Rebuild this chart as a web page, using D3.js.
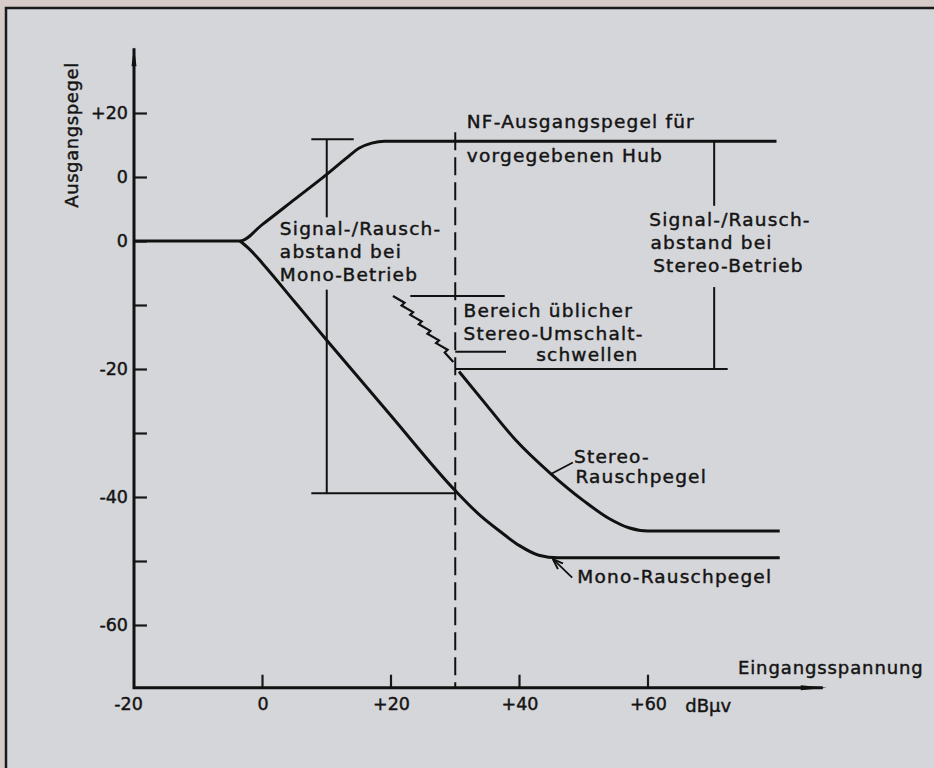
<!DOCTYPE html>
<html>
<head>
<meta charset="utf-8">
<script src="https://cdn.jsdelivr.net/npm/d3@7"></script>
<style>
  body { margin: 0; background: #d6cbc8; }
  svg { display: block; }
  text { font-family: "DejaVu Sans", sans-serif; fill: #141414; stroke: #141414; stroke-width: 0.45px; }
</style>
</head>
<body>
<div id="chart"></div>
<script>
// ticks
var xTicks = [-20, 0, 20, 40, 60];
var xTickLabels = ["-20", "0", "+20", "+40", "+60"];
var yTicks = [20, 10, 0, -10, -20, -30, -40, -50, -60];
var yTickLabels = ["+20", "0", "0", "", "-20", "", "-40", "", "-60"];

// curves, [input dBuV, output dB]
var signalLevel = [[-20, 0], [-3.5, 0], [0, 2.6], [5, 6.5], [10, 10.4], [13, 12.9], [15, 14.5], [17, 15.3], [19, 15.6], [80, 15.6]];
var monoNoise = [[-3.5, 0], [-2, -1.3], [0, -3.5], [5, -9.5], [10, -15.5], [20, -27.3], [30, -39], [34, -43], [37, -45.4], [40, -47.6], [43, -49.1], [46, -49.5], [80.5, -49.5]];
var stereoSwitch = [[20.3, -8.6], [22.1, -9.64], [21.64, -10.07], [23.44, -11.11], [22.99, -11.54], [24.78, -12.58], [24.33, -13.01], [26.13, -14.05], [25.67, -14.48], [27.47, -15.53], [27.01, -15.96], [28.81, -17.0], [28.36, -17.43], [29.7, -18.9]];
var stereoNoise = [[30.6, -20.4], [35, -25.8], [39.4, -31.1], [44.8, -36.3], [50, -40.6], [54, -43.4], [57, -44.8], [60, -45.3], [80.5, -45.3]];

// bracket / guide lines
var guideSegments = [
    [[7.6, 15.9], [14.2, 15.9]],
    [[10, 15.9], [10, 3.7]],
    [[10, -7.6], [10, -39.4]],
    [[7.6, -39.4], [30, -39.4]],
    [[70.3, 15.6], [70.3, 5.5]],
    [[70.3, -7.2], [70.3, -20]],
    [[30, -20], [72.4, -20]],
    [[23, -8.6], [37.7, -8.6]],
    [[30, -17.3], [37.9, -17.3]]
];
var thresholdInput = 30;
var leaderStereo = [[48.3, -34.6], [44.9, -36.4]];
var leaderMono = [[48.2, -52.6], [45.3, -49.8]];

// annotation texts [text, x dBuV, y dB at baseline]
var notes = [
    ["NF-Ausgangspegel für", 31.8, 17.6],
    ["vorgegebenen Hub", 31.8, 12.4],
    ["Signal-/Rausch-", 2.7, 0.9],
    ["abstand bei", 2.7, -2.6],
    ["Mono-Betrieb", 2.7, -6.2],
    ["Signal-/Rausch-", 60.2, 2.3],
    ["abstand bei", 60.4, -1.2],
    ["Stereo-Betrieb", 60.8, -4.8],
    ["Bereich üblicher", 31.3, -11.9],
    ["Stereo-Umschalt-", 31.3, -15.5],
    ["schwellen", 42.6, -18.7],
    ["Stereo-", 48.5, -34.7],
    ["Rauschpegel", 48.7, -37.8],
    ["Mono-Rauschpegel", 49, -53.5]
];

var svgWidth = 934;
var svgHeight = 768;

var svg = d3.select("#chart")
    .append("svg")
    .attr("width", svgWidth)
    .attr("height", svgHeight);

//background and frame
svg.append("rect")
    .attr("x", 6).attr("y", 8)
    .attr("width", svgWidth - 6).attr("height", svgHeight - 8)
    .attr("fill", "#d5d6d9");
svg.append("path")
    .attr("d", "M6," + svgHeight + "V8H" + svgWidth)
    .attr("fill", "none")
    .attr("stroke", "#1a1a1a")
    .attr("stroke-width", 2.5);

//scales
var x = d3.scaleLinear().domain([-20, 60]).range([134, 648]);
var y = d3.scaleLinear().domain([-60, 20]).range([625, 113]);

var yTop = y(30.1);
var yBottom = y(-69.8);
var xRight = x(87.2);

//axes
var xAxis = d3.axisBottom(x)
    .tickValues(xTicks)
    .tickSize(0)
    .tickPadding(10)
    .tickFormat(function (d, i) { return xTickLabels[i]; });

var yAxis = d3.axisLeft(y)
    .tickValues(yTicks)
    .tickSize(-13)
    .tickPadding(6)
    .tickFormat(function (d, i) { return yTickLabels[i]; });

var gx = svg.append("g")
    .attr("transform", "translate(0," + yBottom + ")")
    .call(xAxis);
var gy = svg.append("g")
    .attr("transform", "translate(" + x(-20) + ",0)")
    .call(yAxis);

[gx, gy].forEach(function (g) {
    g.select(".domain").remove();
    g.selectAll("line").attr("stroke", "#1a1a1a").attr("stroke-width", 2.2);
    g.selectAll("text")
        .attr("font-size", 17.5)
        .attr("fill", "#141414")
        .style("font-family", "DejaVu Sans");
});
gx.selectAll(".tick").filter(function (d) { return d === -20; }).select("text").attr("dx", -6);

// x tick marks sit above the axis line
svg.selectAll(".xmark")
    .data(xTicks.filter(d => d > -20))
    .enter()
    .append("line")
    .attr("class", "xmark")
    .attr("x1", d => x(d)).attr("x2", d => x(d))
    .attr("y1", yBottom - 13).attr("y2", yBottom)
    .attr("stroke", "#1a1a1a")
    .attr("stroke-width", 2.2);

//axis lines
svg.append("path")
    .attr("d", "M" + x(-20) + "," + yTop + "V" + yBottom + "H" + xRight)
    .attr("fill", "none")
    .attr("stroke", "#111")
    .attr("stroke-width", 3);
svg.append("path")
    .attr("d", "M" + (xRight + 4) + "," + yBottom + "L" + (xRight - 22) + "," + (yBottom - 2.5) + "L" + (xRight - 22) + "," + (yBottom + 2.5) + "Z")
    .attr("fill", "#111");
svg.append("path")
    .attr("d", "M" + x(-20) + "," + (yTop - 1) + "L" + (x(-20) - 2.5) + "," + (yTop + 18) + "L" + (x(-20) + 2.5) + "," + (yTop + 18) + "Z")
    .attr("fill", "#111");

//axis titles
svg.append("text")
    .attr("transform", "translate(" + (x(-20) - 56) + "," + 135 + ") rotate(-90)")
    .attr("text-anchor", "middle")
    .attr("font-size", 18)
    .attr("letter-spacing", 0.6)
    .text("Ausgangspegel");
svg.append("text")
    .attr("x", x(74))
    .attr("y", y(-67.6))
    .attr("font-size", 18)
    .attr("letter-spacing", 0.9)
    .text("Eingangsspannung");
svg.append("text")
    .attr("x", x(65.8))
    .attr("y", y(-73.6))
    .attr("font-size", 18)
    .text("dBμv");

//threshold dashed line
svg.append("line")
    .attr("x1", x(thresholdInput)).attr("x2", x(thresholdInput))
    .attr("y1", y(17)).attr("y2", yBottom)
    .attr("stroke", "#111")
    .attr("stroke-width", 2)
    .attr("stroke-dasharray", "18,7");

//guides
var straight = d3.line().x(d => x(d[0])).y(d => y(d[1]));
svg.selectAll(".guide")
    .data(guideSegments)
    .enter()
    .append("path")
    .attr("class", "guide")
    .attr("d", straight)
    .attr("fill", "none")
    .attr("stroke", "#111")
    .attr("stroke-width", 2);

//curves
var smooth = d3.line().x(d => x(d[0])).y(d => y(d[1])).curve(d3.curveMonotoneX);
[signalLevel, monoNoise, stereoNoise].forEach(function (s) {
    svg.append("path")
        .attr("d", smooth(s))
        .attr("fill", "none")
        .attr("stroke", "#111")
        .attr("stroke-width", 3);
});
svg.append("path")
    .attr("d", straight(stereoSwitch))
    .attr("fill", "none")
    .attr("stroke", "#111")
    .attr("stroke-width", 2.2)
    .attr("stroke-linejoin", "miter");

//leaders
svg.append("defs").append("marker")
    .attr("id", "arr")
    .attr("viewBox", "0 0 10 10")
    .attr("refX", 9).attr("refY", 5)
    .attr("markerWidth", 6).attr("markerHeight", 6)
    .attr("orient", "auto")
    .append("path")
    .attr("d", "M0,1.5L10,5L0,8.5")
    .attr("fill", "none")
    .attr("stroke", "#111")
    .attr("stroke-width", 1.8);

[leaderStereo, leaderMono].forEach(function (l, i) {
    svg.append("path")
        .attr("d", straight(l))
        .attr("fill", "none")
        .attr("stroke", "#111")
        .attr("stroke-width", 1.8)
        .attr("marker-end", i === 1 ? "url(#arr)" : null);
});

//annotations
svg.selectAll(".note")
    .data(notes)
    .enter()
    .append("text")
    .attr("class", "note")
    .attr("x", d => x(d[1]))
    .attr("y", d => y(d[2]))
    .attr("font-size", 18.5)
    .attr("letter-spacing", 1.2)
    .text(d => d[0]);
</script>
</body>
</html>
